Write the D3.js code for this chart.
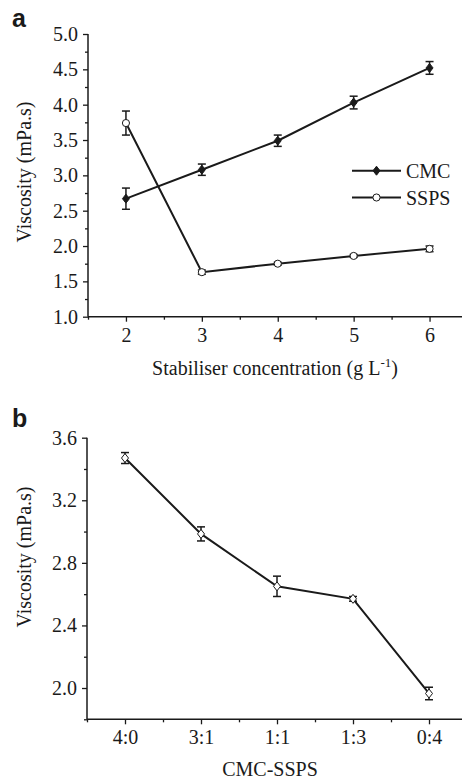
<!DOCTYPE html>
<html>
<head>
<meta charset="utf-8">
<script src="https://cdn.jsdelivr.net/npm/d3@7"></script>
<style>
  body { margin: 0; background: #fff; }
  text { font-family: "Liberation Serif", "Times New Roman", serif; fill: #1a1a1a; }
  text.panel { font-family: "Liberation Sans", Arial, sans-serif; font-weight: bold; }
</style>
</head>
<body>
<div id="the_chart"></div>
<script>
// panel a: viscosity vs stabiliser concentration
var concentrations = [2, 3, 4, 5, 6];
var cmcMean = [2.67, 3.08, 3.49, 4.03, 4.52];
var cmcErr = [0.15, 0.08, 0.08, 0.09, 0.09];
var sspsMean = [3.74, 1.63, 1.75, 1.86, 1.96];
var sspsErr = [0.17, 0.03, 0.02, 0.02, 0.04];
var yTicksA = [1.0, 1.5, 2.0, 2.5, 3.0, 3.5, 4.0, 4.5, 5.0];

// panel b: viscosity vs CMC-SSPS ratio
var ratios = ["4:0", "3:1", "1:1", "1:3", "0:4"];
var blendMean = [3.47, 2.985, 2.65, 2.57, 1.965];
var blendErr = [0.035, 0.045, 0.065, 0.015, 0.04];
var yTicksB = [2.0, 2.4, 2.8, 3.2, 3.6];

var w = 462;
var h = 780;
var ink = "#1a1a1a";

var svg = d3.select("#the_chart")
    .append("svg")
    .attr("width", w)
    .attr("height", h);

function styleAxis(g) {
    g.selectAll("path").remove();
    g.selectAll("line").attr("stroke", ink).attr("stroke-width", 1.3);
    g.selectAll("text").attr("font-size", 20).attr("fill", ink);
}

function drawFrame(x, y, xTicks, xFormat, yTicks, yMinor, xMinor, yFormat) {
    var x0 = x.range()[0], y0 = y.range()[0], y1 = y.range()[1];

    svg.append("g") // minor y ticks
        .attr("transform", "translate(" + x0 + ",0)")
        .call(d3.axisLeft(y).tickValues(yMinor).tickSize(3).tickFormat(""))
        .call(styleAxis);
    svg.append("g")
        .attr("transform", "translate(" + x0 + ",0)")
        .call(d3.axisLeft(y).tickValues(yTicks).tickSize(5).tickPadding(5).tickFormat(yFormat))
        .call(styleAxis);

    svg.append("g") // minor x ticks
        .attr("transform", "translate(0," + y0 + ")")
        .call(d3.axisBottom(x).tickValues(xMinor).tickSize(3).tickFormat(""))
        .call(styleAxis);
    svg.append("g")
        .attr("transform", "translate(0," + y0 + ")")
        .call(d3.axisBottom(x).tickValues(xTicks).tickSize(5).tickPadding(6).tickFormat(xFormat))
        .call(styleAxis);

    // axis lines
    svg.append("line")
        .attr("x1", x0).attr("x2", x0).attr("y1", y1).attr("y2", y0)
        .attr("stroke", ink).attr("stroke-width", 1.5);
    svg.append("line")
        .attr("x1", x0).attr("x2", x.range()[1]).attr("y1", y0).attr("y2", y0)
        .attr("stroke", ink).attr("stroke-width", 1.5);
}

function drawSeries(x, y, xs, mean, err, marker, fill) {
    var pts = xs.map(function (d, i) { return { x: d, m: mean[i], e: err[i] }; });

    svg.append("path")
        .datum(pts)
        .attr("fill", "none")
        .attr("stroke", ink)
        .attr("stroke-width", 2)
        .attr("d", d3.line()
            .x(function (d) { return x(d.x); })
            .y(function (d) { return y(d.m); }));

    var eb = svg.append("g").selectAll("g")
        .data(pts)
        .enter().append("g")
        .attr("stroke", ink)
        .attr("stroke-width", 1.5);
    eb.append("line")
        .attr("x1", function (d) { return x(d.x); })
        .attr("x2", function (d) { return x(d.x); })
        .attr("y1", function (d) { return y(d.m + d.e); })
        .attr("y2", function (d) { return y(d.m - d.e); });
    [1, -1].forEach(function (s) {
        eb.append("line")
            .attr("x1", function (d) { return x(d.x) - 4; })
            .attr("x2", function (d) { return x(d.x) + 4; })
            .attr("y1", function (d) { return y(d.m + s * d.e); })
            .attr("y2", function (d) { return y(d.m + s * d.e); });
    });

    svg.append("g").selectAll("path")
        .data(pts)
        .enter().append("path")
        .attr("d", marker)
        .attr("transform", function (d) { return "translate(" + x(d.x) + "," + y(d.m) + ")"; })
        .attr("fill", fill)
        .attr("stroke", ink)
        .attr("stroke-width", 1);
}

var diamond = "M0,-4.5L3.5,0L0,4.5L-3.5,0Z";
var circle = d3.symbol().type(d3.symbolCircle).size(40)();

// ---------- panel a ----------
var xA = d3.scaleLinear().domain([1.5, 6.5]).range([88, 467.5]);
var yA = d3.scaleLinear().domain([1, 5]).range([316.7, 34]);

drawFrame(xA, yA, concentrations, d3.format("d"), yTicksA,
    d3.range(1.25, 5, 0.5), d3.range(1.5, 6.6, 1), d3.format(".1f"));

drawSeries(xA, yA, concentrations, cmcMean, cmcErr, diamond, ink);
drawSeries(xA, yA, concentrations, sspsMean, sspsErr, circle, "#fff");

// legend
var legend = [
    { name: "CMC", marker: diamond, fill: ink, y: 170.7 },
    { name: "SSPS", marker: circle, fill: "#fff", y: 197.5 }
];
legend.forEach(function (d) {
    svg.append("line")
        .attr("x1", 352).attr("x2", 401).attr("y1", d.y).attr("y2", d.y)
        .attr("stroke", ink).attr("stroke-width", 2);
    svg.append("path")
        .attr("d", d.marker)
        .attr("transform", "translate(376.5," + d.y + ")")
        .attr("fill", d.fill).attr("stroke", ink).attr("stroke-width", 1);
    svg.append("text")
        .attr("x", 406).attr("y", d.y + 7)
        .attr("font-size", 20)
        .text(d.name);
});

svg.append("text")
    .attr("class", "panel")
    .attr("x", 12).attr("y", 27)
    .attr("font-size", 25)
    .text("a");

svg.append("text")
    .attr("transform", "translate(31,172) rotate(-90)")
    .attr("text-anchor", "middle")
    .attr("font-size", 20)
    .text("Viscosity (mPa.s)");

var xl = svg.append("text")
    .attr("x", 275).attr("y", 375)
    .attr("text-anchor", "middle")
    .attr("font-size", 20);
xl.append("tspan").text("Stabiliser concentration (g L");
xl.append("tspan").attr("font-size", 13).attr("dy", -8).text("-1");
xl.append("tspan").attr("dy", 8).text(")");

// ---------- panel b ----------
var idx = d3.range(ratios.length);
var xB = d3.scaleLinear().domain([-0.5, 4.5]).range([87, 467]);
var yB = d3.scaleLinear().domain([1.8, 3.6]).range([719.3, 437.7]);

drawFrame(xB, yB, idx, function (d) { return ratios[d]; }, yTicksB,
    [1.8, 2.2, 2.6, 3.0, 3.4], d3.range(-0.5, 4.6, 1), d3.format(".1f"));

drawSeries(xB, yB, idx, blendMean, blendErr, diamond, "#fff");

svg.append("text")
    .attr("class", "panel")
    .attr("x", 12).attr("y", 427)
    .attr("font-size", 25)
    .text("b");

svg.append("text")
    .attr("transform", "translate(31,557) rotate(-90)")
    .attr("text-anchor", "middle")
    .attr("font-size", 20)
    .text("Viscosity (mPa.s)");

svg.append("text")
    .attr("x", 270).attr("y", 776)
    .attr("text-anchor", "middle")
    .attr("font-size", 20)
    .text("CMC-SSPS");
</script>
</body>
</html>
